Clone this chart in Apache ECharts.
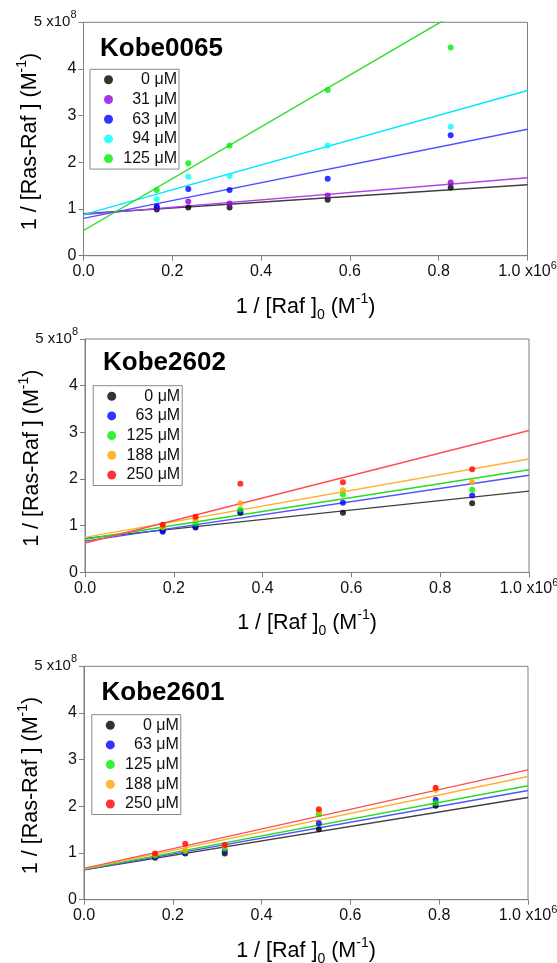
<!DOCTYPE html>
<html>
<head>
<meta charset="utf-8">
<script src="https://cdn.jsdelivr.net/npm/echarts@6/dist/echarts.min.js"></script>
<style>
  html, body { margin: 0; padding: 0; background: #fff; }
  #chart { width: 557px; height: 963px; }
</style>
</head>
<body>
<div id="chart"></div>
<script>
// x in units of 1e6 M^-1, y in units of 1e8 M^-1
const xTickLabels = ['0.0', '0.2', '0.4', '0.6', '0.8', '1.0 x10'];
const yTickLabels = ['0', '1', '2', '3', '4', '5 x10'];

// Kobe0065
const conc0065 = ['0 μM', '31 μM', '63 μM', '94 μM', '125 μM'];
const raf0065 = [0.165, 0.236, 0.329, 0.550, 0.827];
const y0065_0 = [0.99, 1.03, 1.03, 1.20, 1.46];
const y0065_31 = [1.03, 1.16, 1.12, 1.29, 1.57];
const y0065_63 = [1.06, 1.43, 1.41, 1.65, 2.58];
const y0065_94 = [1.21, 1.69, 1.71, 2.36, 2.76];
const y0065_125 = [1.41, 1.98, 2.36, 3.55, 4.46];
const int0065 = [0.90, 0.88, 0.80, 0.88, 0.54];
const slope0065 = [0.62, 0.79, 1.91, 2.66, 5.55];

// Kobe2602
const conc2602 = ['0 μM', '63 μM', '125 μM', '188 μM', '250 μM'];
const raf2602 = [0.175, 0.249, 0.350, 0.581, 0.872];
const y2602_0 = [0.90, 0.96, 1.28, 1.28, 1.48];
const y2602_63 = [0.87, 0.98, 1.30, 1.49, 1.65];
const y2602_125 = [0.96, 1.05, 1.35, 1.67, 1.77];
const y2602_188 = [0.98, 1.14, 1.48, 1.76, 1.93];
const y2602_250 = [1.02, 1.19, 1.90, 1.93, 2.21];
const int2602 = [0.73, 0.67, 0.71, 0.75, 0.63];
const slope2602 = [1.01, 1.41, 1.49, 1.68, 2.41];

// Kobe2601
const conc2601 = ['0 μM', '63 μM', '125 μM', '188 μM', '250 μM'];
const raf2601 = [0.160, 0.228, 0.317, 0.529, 0.792];
const y2601_0 = [0.90, 0.99, 0.99, 1.51, 2.01];
const y2601_63 = [0.92, 1.00, 1.05, 1.64, 2.14];
const y2601_125 = [0.94, 1.03, 1.09, 1.83, 2.07];
const y2601_188 = [0.97, 1.06, 1.14, 1.89, 2.35];
const y2601_250 = [0.99, 1.20, 1.17, 1.94, 2.40];
const int2601 = [0.64, 0.64, 0.65, 0.66, 0.67];
const slope2601 = [1.55, 1.70, 1.79, 1.98, 2.11];

const font = "'Liberation Sans', Arial, sans-serif";
const axisGray = '#808080';

const panels = [
  {
    title: 'Kobe0065', names: conc0065, x: raf0065,
    y: [y0065_0, y0065_31, y0065_63, y0065_94, y0065_125],
    b: int0065, m: slope0065,
    dot: ['#000000', '#9400e0', '#0000ff', '#00ffff', '#00ee00'],
    line: ['#404040', '#b040e8', '#5050ff', '#00e8ff', '#22dd22'],
    left: 83.5, top: 22.3, titlePos: [95, 31], legendPos: [90, 69.3]
  },
  {
    title: 'Kobe2602', names: conc2602, x: raf2602,
    y: [y2602_0, y2602_63, y2602_125, y2602_188, y2602_250],
    b: int2602, m: slope2602,
    dot: ['#000000', '#0000ff', '#00ee00', '#ffa500', '#ff0000'],
    line: ['#404040', '#5050ff', '#22dd22', '#ffb030', '#ff5050'],
    left: 85, top: 339, titlePos: [98, 345], legendPos: [93.2, 385.7]
  },
  {
    title: 'Kobe2601', names: conc2601, x: raf2601,
    y: [y2601_0, y2601_63, y2601_125, y2601_188, y2601_250],
    b: int2601, m: slope2601,
    dot: ['#000000', '#0000ff', '#00ee00', '#ffa500', '#ff0000'],
    line: ['#404040', '#5050ff', '#22dd22', '#ffb030', '#ff5050'],
    left: 84, top: 666.3, titlePos: [96.5, 675], legendPos: [91.8, 714.7]
  }
];

const grid = [], xAxis = [], yAxis = [], series = [], legend = [], title = [];

panels.forEach((p, i) => {
  grid.push({
    left: p.left, top: p.top, width: 444, height: 233.4,
    outerBoundsMode: 'none', containLabel: false,
    show: true, borderColor: axisGray, borderWidth: 1, backgroundColor: 'transparent'
  });
  xAxis.push({
    gridIndex: i, type: 'value', min: 0, max: 1, interval: 0.2,
    axisLine: { onZero: false, lineStyle: { color: axisGray } },
    axisTick: { length: 5, lineStyle: { color: axisGray } },
    splitLine: { show: false },
    axisLabel: {
      margin: 5, fontSize: 16, lineHeight: 22, color: '#111', fontFamily: font,
      formatter: v => {
        const s = xTickLabels[Math.round(v / 0.2)];
        return v > 0.99 ? '{m|' + s + '}{s|6}' : s;
      },
      rich: {
        m: { fontSize: 16, lineHeight: 22, color: '#111', fontFamily: font },
        s: { fontSize: 11, lineHeight: 11, verticalAlign: 'top', color: '#111', fontFamily: font }
      }
    },
    name: '{m|1 / [Raf ]}{sub|0}{m| (M}{sup|-1}{m|)}',
    nameLocation: 'middle', nameGap: 36,
    nameTextStyle: {
      rich: {
        m: { fontSize: 21.5, lineHeight: 30, color: '#000', fontFamily: font },
        sub: { fontSize: 14, lineHeight: 14, verticalAlign: 'bottom', color: '#000', fontFamily: font },
        sup: { fontSize: 14, lineHeight: 14, verticalAlign: 'top', color: '#000', fontFamily: font }
      }
    }
  });
  yAxis.push({
    gridIndex: i, type: 'value', min: 0, max: 5, interval: 1,
    axisLine: { onZero: false, lineStyle: { color: axisGray } },
    axisTick: { length: 5, lineStyle: { color: axisGray } },
    splitLine: { show: false },
    axisLabel: {
      margin: 7, fontSize: 16, color: '#111', fontFamily: font,
      formatter: v => v === 5 ? '{s|' + yTickLabels[5] + '}{p|8}' : yTickLabels[v],
      rich: {
        s: { fontSize: 15, lineHeight: 26, color: '#111', fontFamily: font },
        p: { fontSize: 11, lineHeight: 11, verticalAlign: 'top', color: '#111', fontFamily: font }
      }
    },
    name: '{m|1 / [Ras-Raf ] (M}{sup|-1}{m|)}',
    nameLocation: 'middle', nameGap: 38, nameMoveOverlap: false,
    nameTextStyle: {
      padding: [0, 5, 0, 0],
      rich: {
        m: { fontSize: 21.5, lineHeight: 30, color: '#000', fontFamily: font },
        sup: { fontSize: 14, lineHeight: 14, verticalAlign: 'top', color: '#000', fontFamily: font }
      }
    }
  });
  title.push({
    text: p.title, left: p.titlePos[0], top: p.titlePos[1],
    textStyle: { fontSize: 26, fontWeight: 'bold', color: '#000', fontFamily: font }
  });
  legend.push({
    orient: 'vertical', left: p.legendPos[0], top: p.legendPos[1],
    data: p.names.map((n, k) => ({ name: n, itemStyle: { color: p.dot[k] } })),
    icon: 'circle', itemWidth: 9, itemHeight: 9, itemGap: 3.7,
    padding: [2.5, 2, 2.5, 14],
    borderColor: '#888', borderWidth: 1, backgroundColor: '#fff',
    selectedMode: false,
    formatter: n => '{r|' + n + '}',
    textStyle: {
      rich: { r: { width: 59, align: 'right', fontSize: 16, color: '#111', fontFamily: font } }
    }
  });
  p.names.forEach((n, k) => {
    series.push({
      name: p.title + ' fit ' + n, type: 'line', xAxisIndex: i, yAxisIndex: i,
      data: [[0, p.b[k]], [1, p.b[k] + p.m[k]]],
      symbol: 'none', lineStyle: { color: p.line[k], width: 1.4 }, z: 2, silent: true
    });
  });
  p.names.forEach((n, k) => {
    series.push({
      name: n, type: 'scatter', xAxisIndex: i, yAxisIndex: i,
      data: p.x.map((xv, j) => [xv, p.y[k][j]]),
      symbol: 'circle', symbolSize: 6, itemStyle: { color: p.dot[k] }, z: 3
    });
  });
});

const chart = echarts.init(document.getElementById('chart'));
chart.setOption({
  animation: false,
  backgroundColor: '#fff',
  title, grid, xAxis, yAxis, legend, series
});
</script>
</body>
</html>
